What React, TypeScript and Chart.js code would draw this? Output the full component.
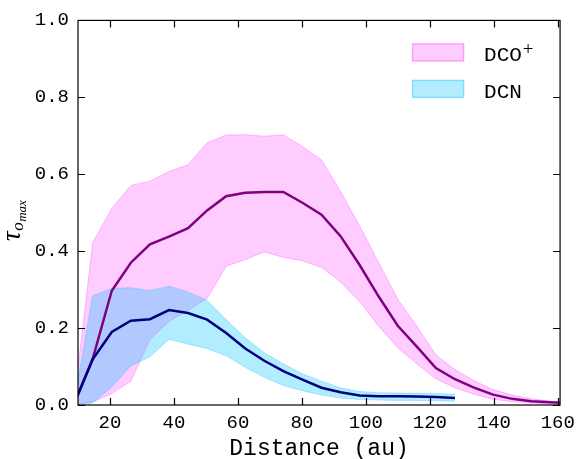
import React, { useEffect, useRef } from "react";
import { Chart, registerables } from "chart.js";

Chart.register(...registerables);

// Distance grid (au)
const distance = [8.64, 14.6, 20.56, 26.52, 32.48, 38.44, 44.4, 50.36, 56.32, 62.28, 68.24, 74.2, 80.16, 86.12, 92.08, 98.04, 104.0, 109.96, 115.92, 121.88, 127.84, 133.8, 139.76, 145.72, 151.68, 157.64, 163.6];

// DCO+ optical depth: mean and band limits
const dcoMean = [0.0, 0.12, 0.297, 0.37, 0.418, 0.438, 0.46, 0.506, 0.543, 0.552, 0.554, 0.554, 0.526, 0.495, 0.439, 0.364, 0.282, 0.206, 0.152, 0.096, 0.067, 0.045, 0.027, 0.016, 0.010, 0.007, 0.005];
const dcoUpper = [0.0, 0.422, 0.511, 0.571, 0.582, 0.607, 0.625, 0.682, 0.702, 0.703, 0.699, 0.702, 0.672, 0.637, 0.555, 0.466, 0.37, 0.275, 0.205, 0.13, 0.092, 0.063, 0.04, 0.026, 0.016, 0.010, 0.007];
const dcoLower = [0.0, 0.008, 0.030, 0.062, 0.170, 0.217, 0.247, 0.277, 0.361, 0.378, 0.398, 0.384, 0.375, 0.358, 0.320, 0.269, 0.205, 0.149, 0.107, 0.068, 0.045, 0.028, 0.015, 0.009, 0.005, 0.003, 0.002];

// DCN optical depth: mean and band limits
const dcnMean = [0.0, 0.119, 0.19, 0.219, 0.223, 0.247, 0.239, 0.222, 0.187, 0.147, 0.115, 0.088, 0.066, 0.045, 0.033, 0.025, 0.023, 0.023, 0.022, 0.021, 0.018];
const dcnUpper = [0.0, 0.284, 0.303, 0.305, 0.297, 0.309, 0.294, 0.272, 0.222, 0.175, 0.136, 0.107, 0.081, 0.062, 0.045, 0.035, 0.032, 0.031, 0.031, 0.030, 0.028];
const dcnLower = [0.0, 0.005, 0.047, 0.102, 0.125, 0.171, 0.158, 0.147, 0.128, 0.098, 0.072, 0.051, 0.037, 0.026, 0.018, 0.014, 0.013, 0.012, 0.012, 0.011, 0.010];

const xTicks = [20, 40, 60, 80, 100, 120, 140, 160];
const yTicks = [0, 0.2, 0.4, 0.6, 0.8, 1.0];
const legendLabels = ["DCO", "DCN"];
const xTitle = "Distance (au)";

const PINK_FILL = "rgba(255,0,255,0.2)";
const PINK_EDGE = "rgba(255,0,255,0.25)";
const BLUE_FILL = "rgba(0,191,255,0.3)";
const BLUE_EDGE = "rgba(0,191,255,0.3)";
const MONO = "'Liberation Mono', monospace";

const pts = (ys: number[]) => ys.map((y, i) => ({ x: distance[i], y }));

const decorPlugin = {
  id: "decor",
  afterDatasetsDraw(chart: any) {
    const { ctx, chartArea: a, scales } = chart;
    const xs = scales.x;
    const ys = scales.y;
    ctx.save();
    ctx.strokeStyle = "#000";
    ctx.lineWidth = 1.2;
    ctx.strokeRect(a.left, a.top, a.right - a.left, a.bottom - a.top);
    const tl = 7;
    ctx.beginPath();
    for (const v of xTicks) {
      const px = Math.round(xs.getPixelForValue(v)) + 0.5;
      ctx.moveTo(px, a.bottom);
      ctx.lineTo(px, a.bottom - tl);
      ctx.moveTo(px, a.top);
      ctx.lineTo(px, a.top + tl);
    }
    for (const v of yTicks) {
      const py = Math.round(ys.getPixelForValue(v)) + 0.5;
      ctx.moveTo(a.left, py);
      ctx.lineTo(a.left + tl, py);
      ctx.moveTo(a.right, py);
      ctx.lineTo(a.right - tl, py);
    }
    ctx.stroke();
    ctx.restore();
  },
  afterDraw(chart: any) {
    const { ctx, chartArea: a } = chart;
    ctx.save();
    // Legend
    const bx = a.right - 148;
    const bw = 52;
    const bh = 18;
    const rows = [
      { y: a.top + 23, fill: PINK_FILL, edge: PINK_EDGE, label: legendLabels[0], sup: "+" },
      { y: a.top + 59.5, fill: BLUE_FILL, edge: BLUE_EDGE, label: legendLabels[1], sup: "" },
    ];
    for (const r of rows) {
      ctx.fillStyle = "#fff";
      ctx.fillRect(bx, r.y, bw, bh);
      ctx.fillStyle = r.fill;
      ctx.fillRect(bx, r.y, bw, bh);
      ctx.strokeStyle = r.edge;
      ctx.lineWidth = 1.5;
      ctx.strokeRect(bx + 0.5, r.y + 0.5, bw - 1, bh - 1);
      ctx.fillStyle = "#000";
      ctx.font = `21px ${MONO}`;
      ctx.textBaseline = "alphabetic";
      ctx.textAlign = "left";
      const tx = bx + 72;
      ctx.fillText(r.label, tx, r.y + bh);
      if (r.sup) {
        const w = ctx.measureText(r.label).width;
        ctx.font = `19px 'Liberation Serif', serif`;
        ctx.fillText(r.sup, tx + w + 1, r.y + 12);
      }
    }
    // x title
    ctx.font = `23px ${MONO}`;
    ctx.textAlign = "center";
    ctx.textBaseline = "alphabetic";
    ctx.fillStyle = "#000";
    ctx.fillText(xTitle, (a.left + a.right) / 2, 455);
    // y title: tau_{o_max}
    ctx.translate(20, 241);
    ctx.rotate(-Math.PI / 2);
    ctx.textAlign = "left";
    ctx.font = `italic 27px 'Liberation Serif', serif`;
    ctx.fillText("τ", 0, 0);
    let x = ctx.measureText("τ").width + 0.5;
    ctx.font = `italic 17px 'Liberation Serif', serif`;
    ctx.fillText("o", x, 3);
    x += ctx.measureText("o").width + 0.5;
    ctx.font = `italic 13px 'Liberation Serif', serif`;
    ctx.fillText("max", x, 5.5);
    ctx.restore();
  },
};

export default function App() {
  const ref = useRef<HTMLCanvasElement | null>(null);
  useEffect(() => {
    if (!ref.current) return;
    const chart = new Chart(ref.current, {
      type: "line",
      data: {
        datasets: [
          { data: pts(dcoUpper), fill: "+1", backgroundColor: PINK_FILL, borderColor: PINK_EDGE, borderWidth: 1, pointRadius: 0, order: 3 },
          { data: pts(dcoLower), fill: false, borderColor: PINK_EDGE, borderWidth: 1, pointRadius: 0, order: 3 },
          { data: pts(dcnUpper), fill: "+1", backgroundColor: BLUE_FILL, borderColor: BLUE_EDGE, borderWidth: 1, pointRadius: 0, order: 2 },
          { data: pts(dcnLower), fill: false, borderColor: BLUE_EDGE, borderWidth: 1, pointRadius: 0, order: 2 },
          { data: pts(dcoMean), fill: false, borderColor: "#800080", borderWidth: 2.5, pointRadius: 0, order: 1 },
          { data: pts(dcnMean), fill: false, borderColor: "#000080", borderWidth: 2.5, pointRadius: 0, order: 0 },
        ],
      } as any,
      options: {
        animation: false,
        responsive: false,
        maintainAspectRatio: false,
        layout: { padding: { left: 0, top: 14, right: 16, bottom: 0 } },
        plugins: { legend: { display: false }, tooltip: { enabled: false } },
        elements: { line: { tension: 0 } },
        scales: {
          x: {
            type: "linear",
            min: 10,
            max: 160.7,
            grid: { display: false, drawTicks: false },
            border: { display: false },
            afterBuildTicks: (s: any) => { s.ticks = xTicks.map((v) => ({ value: v })); },
            afterFit: (s: any) => { s.height = 54; },
            ticks: { color: "#000", font: { family: MONO, size: 19 }, padding: 7, maxRotation: 0, autoSkip: false, callback: (v: any) => String(v) },
          },
          y: {
            type: "linear",
            min: 0,
            max: 1,
            grid: { display: false, drawTicks: false },
            border: { display: false },
            afterBuildTicks: (s: any) => { s.ticks = yTicks.map((v) => ({ value: v })); },
            afterFit: (s: any) => { s.width = 78; },
            ticks: { color: "#000", font: { family: MONO, size: 19 }, padding: 9, autoSkip: false, callback: (v: any) => Number(v).toFixed(1) },
          },
        },
      } as any,
      plugins: [decorPlugin],
    });
    return () => chart.destroy();
  }, []);
  return (
    <div style={{ position: "fixed", left: 0, top: 0, width: 582, height: 459, background: "#fff" }}>
      <canvas ref={ref} width={582} height={459} style={{ display: "block" }} />
    </div>
  );
}
